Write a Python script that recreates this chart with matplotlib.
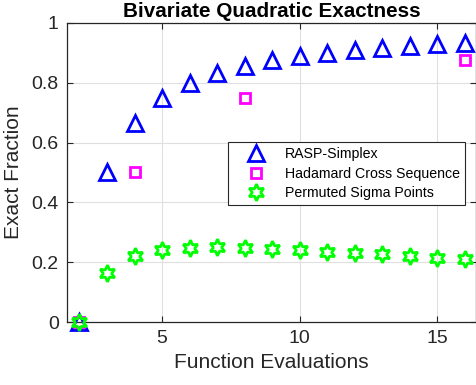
import matplotlib
matplotlib.use("Agg")
import matplotlib.pyplot as plt

plt.rcParams['font.family'] = ['Liberation Sans', 'DejaVu Sans']

rasp_x = [2, 3, 4, 5, 6, 7, 8, 9, 10, 11, 12, 13, 14, 15, 16]
rasp_y = [0.0, 0.5, 0.667, 0.75, 0.8, 0.833, 0.857, 0.875, 0.889, 0.9, 0.909, 0.917, 0.923, 0.929, 0.933]

had_x = [2, 4, 8, 16]
had_y = [0.0, 0.5, 0.75, 0.875]

sig_x = [2, 3, 4, 5, 6, 7, 8, 9, 10, 11, 12, 13, 14, 15, 16]
sig_y = [0.0, 0.165, 0.221, 0.242, 0.249, 0.25, 0.247, 0.244, 0.241, 0.235, 0.23, 0.226, 0.221, 0.215, 0.211]

xticks = [5, 10, 15]
yticks = [0, 0.2, 0.4, 0.6, 0.8, 1]
ytick_labels = ['0', '0.2', '0.4', '0.6', '0.8', '1']

fig = plt.figure(figsize=(4.77, 3.85), dpi=100)
ax = fig.add_axes([0.1405, 0.1636, 0.8575, 0.7767])

dark = '#262626'
ax.plot(rasp_x, rasp_y, linestyle='none', marker='^', ms=12, mew=2,
        mfc='none', mec=(0, 0, 1), label='RASP-Simplex', clip_on=False, zorder=3)
ax.plot(had_x, had_y, linestyle='none', marker='s', ms=7.5, mew=2,
        mfc='none', mec=(1, 0, 1), label='Hadamard Cross Sequence', clip_on=False, zorder=3)
ax.plot(sig_x, sig_y, linestyle='none', marker=(6, 1, 0), ms=12, mew=2,
        mfc='none', mec=(0, 1, 0), label='Permuted Sigma Points', clip_on=False, zorder=3)

ax.set_xlim(1.55, 16.4)
ax.set_ylim(0, 1)
ax.set_xticks(xticks)
ax.set_yticks(yticks)
ax.set_yticklabels(ytick_labels)
ax.grid(True, color='#dfdfdf', linewidth=0.8)
ax.set_axisbelow(True)
for s in ax.spines.values():
    s.set_color(dark)
    s.set_linewidth(0.9)
ax.tick_params(direction='in', length=4, width=0.8, colors=dark, labelsize=14,
               top=True, right=True, pad=6)

ax.set_xlabel('Function Evaluations', fontsize=15, color=dark, labelpad=4)
ax.set_ylabel('Exact Fraction', fontsize=15, color=dark, labelpad=6)
ax.set_title('Bivariate Quadratic Exactness', fontsize=14.9, fontweight='bold', pad=4)

leg = ax.legend(loc='upper left', bbox_to_anchor=(0.3945, 0.602), fontsize=10.2,
                frameon=True, fancybox=False, edgecolor=dark, framealpha=1,
                borderpad=0.35, labelspacing=0.4, handletextpad=0.45, borderaxespad=0,
                handlelength=3.2)
leg.get_frame().set_linewidth(0.8)

fig.savefig('out.png', dpi=100)
